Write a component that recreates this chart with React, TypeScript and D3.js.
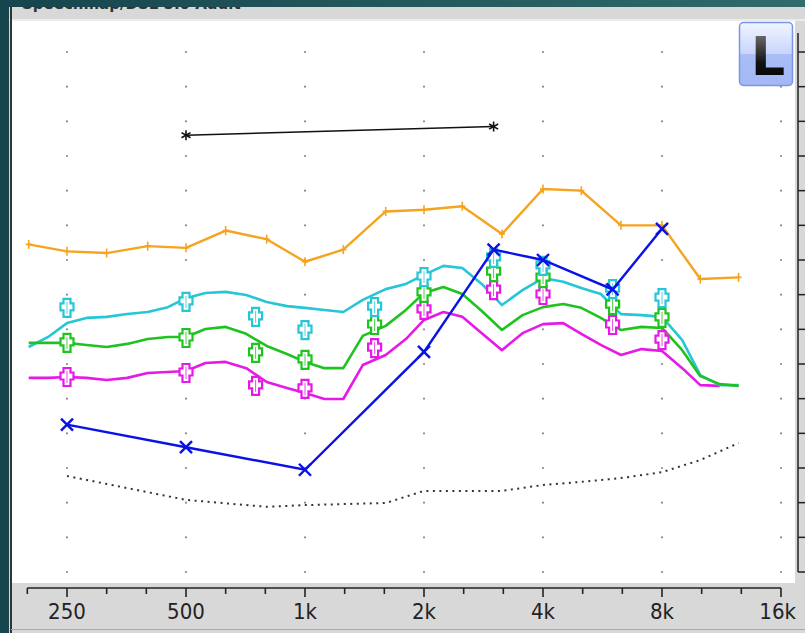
import React from "react";
import * as d3 from "d3";

const W = 805;
const H = 633;

// Frequency axis labels (octaves)
const octaveTicks = [250, 500, 1000, 2000, 4000, 8000, 16000];
const octaveLabels = ["250", "500", "1k", "2k", "4k", "8k", "16k"];

// Level rows (dB SPL), one dotted grid row per 10 dB
const levelRows = [-10, 0, 10, 20, 30, 40, 50, 60, 70, 80, 90, 100, 110, 120, 130, 140];

// Maximum power output, third-octave bands
const mpoFreqs = [200, 250, 315, 400, 500, 630, 800, 1000, 1250, 1600, 2000, 2500, 3150, 4000, 5000, 6300, 8000, 10000, 12500];
const mpoValues = [84.5, 82.5, 82, 84, 83.5, 88.5, 86, 79.5, 83, 94, 94.5, 95.5, 87.5, 100.5, 100, 90, 90, 74.5, 75];

// Uncomfortable loudness levels
const uclFreqs = [500, 3000];
const uclValues = [116, 118.5];

// Hearing thresholds (left ear)
const thresholdFreqs = [250, 500, 1000, 2000, 3000, 4000, 6000, 8000];
const thresholdValues = [32.5, 26, 19.5, 53.5, 83, 80, 71.5, 89];

// Normal hearing threshold
const normFreqs = [250, 500, 800, 1000, 1600, 2000, 3150, 4000, 5000, 6300, 8000, 10000, 12500];
const normValues = [17.7, 10.8, 8.8, 9.3, 9.9, 13.4, 13.4, 15.1, 16, 17.1, 18.8, 22.3, 27.2];

// Aided speech, sixth-octave resolution
const speechFreqs = [200, 224, 250, 280, 315, 355, 400, 450, 500, 560, 630, 710, 800, 900, 1000, 1120, 1250, 1400, 1600, 1800, 2000, 2240, 2500, 2800, 3150, 3550, 4000, 4500, 5000, 5600, 6300, 7100, 8000, 9000, 10000, 11200, 12500];
const speechLoud = [54.9, 57.8, 61.8, 63.3, 63.6, 64.4, 65, 66.4, 69, 70.5, 70.8, 69.9, 67.9, 66.7, 66.2, 65.6, 65, 68.5, 71.6, 73.1, 75.7, 78.3, 77.7, 73.1, 67, 71.3, 74.8, 73.7, 71.9, 70.2, 64.4, 64.1, 63.6, 56.9, 46.8, 43.9, 43.9];
const speechAverage = [56.1, 56.1, 56.1, 55.5, 54.9, 55.8, 57.2, 57.8, 57.8, 60.1, 60.7, 58.7, 55.2, 52.9, 50.6, 48.8, 48.8, 58.1, 61, 65.6, 70.5, 72.2, 70.2, 65.3, 59.8, 64.1, 66.4, 67.3, 66.2, 63.3, 59.8, 60.7, 60.4, 54, 46.5, 44.2, 43.7];
const speechSoft = [46, 46, 46.25, 46, 45.4, 46, 47.4, 47.7, 48, 50.3, 50.6, 48.8, 44.8, 43.1, 41.6, 39.9, 39.9, 49.7, 52.6, 57.2, 62.7, 65, 63.6, 58.9, 54, 58.9, 61.5, 61.8, 58.7, 55.5, 52.6, 54.3, 53.75, 48.8, 43.9, 43.7];

// Prescription targets
const targetFreqs = [250, 500, 750, 1000, 1500, 2000, 3000, 4000, 6000, 8000];
const targetLoud = [66.2, 67.9, 63.6, 59.8, 66.4, 75.1, 80.6, 78.3, 71.6, 69];
const targetAverage = [56.1, 57.5, 53.2, 51.2, 61.25, 70.5, 76.5, 74.8, 67, 63.3];
const targetSoft = [46.25, 47.4, 43.7, 42.8, 54.6, 65.6, 71.3, 69.9, 61.25, 56.9];

const ORANGE = "#f6a31e";
const BLUE = "#0b12e4";
const CYAN = "#26c6d6";
const GREEN = "#1fc31f";
const MAGENTA = "#e61ae6";

const x = d3.scaleLog().base(2).domain([250, 16000]).range([67, 781]);
const y = d3.scaleLinear().domain([-10, 140]).range([572, 52]);

const PLOT = { left: 12, top: 21, right: 795, bottom: 583 };

// third-octave tick steps from 200 Hz to 16 kHz (step 0 = 250 Hz)
const axisSteps = d3.range(-1, 19);

type Pt = [number, number];
const zip = (fs: number[], vs: number[]): Pt[] => vs.map((v, i) => [fs[i], v]);

const linePath = d3
  .line<Pt>()
  .x((d) => x(d[0]))
  .y((d) => y(d[1]));

const crossPath = (() => {
  const a = 3.5, h = 6.5, v = 9, o = -1;
  return `M${-a},${-v}L${a},${-v}L${a},${-a + o}L${h},${-a + o}L${h},${a + o}L${a},${a + o}L${a},${v}L${-a},${v}L${-a},${a + o}L${-h},${a + o}L${-h},${-a + o}L${-a},${-a + o}Z`;
})();

function Targets({ values, color }: { values: number[]; color: string }) {
  return (
    <g>
      {zip(targetFreqs, values).map((d, i) => (
        <g key={i} transform={`translate(${x(d[0])},${y(d[1])})`}>
          <path d={crossPath} fill="#fff" stroke={color} strokeWidth={2.2} />
          <line x1={0} x2={0} y1={-6} y2={6} stroke={color} strokeWidth={1} opacity={0.8} />
        </g>
      ))}
    </g>
  );
}

export default function App() {
  const font = "'DejaVu Sans Condensed', 'DejaVu Sans', sans-serif";
  const mpo = zip(mpoFreqs, mpoValues);
  const ucl = zip(uclFreqs, uclValues);
  const thr = zip(thresholdFreqs, thresholdValues);

  return (
    <svg
      width={W}
      height={H}
      viewBox={`0 0 ${W} ${H}`}
      style={{ position: "absolute", left: 0, top: 0, display: "block" }}
    >
      <defs>
        <linearGradient id="teal" x1="0" x2="1" y1="0" y2="0">
          <stop offset="0" stopColor="#17454e" />
          <stop offset="1" stopColor="#2f6c6b" />
        </linearGradient>
        <linearGradient id="btn" x1="0" x2="0" y1="0" y2="1">
          <stop offset="0" stopColor="#f2f5ff" />
          <stop offset="0.5" stopColor="#c8d5fb" />
          <stop offset="0.5" stopColor="#a9bef6" />
          <stop offset="1" stopColor="#a3b8f5" />
        </linearGradient>
        <linearGradient id="glyph" x1="0" x2="0" y1="0" y2="1">
          <stop offset="0" stopColor="#8a8a8a" />
          <stop offset="0.6" stopColor="#111" />
          <stop offset="1" stopColor="#000" />
        </linearGradient>
        <clipPath id="titleClip">
          <rect x={12} y={7} width={W} height={13} />
        </clipPath>
        <clipPath id="plotClip">
          <rect x={PLOT.left} y={PLOT.top} width={PLOT.right - PLOT.left} height={PLOT.bottom - PLOT.top} />
        </clipPath>
      </defs>

      {/* window background */}
      <rect x={0} y={0} width={W} height={H} fill="url(#teal)" />
      <rect x={9} y={7} width={W - 9} height={H - 7} fill="#d8d8d8" />
      <rect x={9} y={19} width={W - 9} height={2} fill="#ececec" />
      <g clipPath="url(#titleClip)">
        <text x={22} y={9} fontFamily="'DejaVu Sans', sans-serif" fontWeight="bold" fontSize={15} fill="#333">
          Speechmap/DSL 5.0 Adult
        </text>
      </g>

      {/* plot area */}
      <rect x={PLOT.left} y={PLOT.top} width={PLOT.right - PLOT.left} height={PLOT.bottom - PLOT.top} fill="#fff" />
      <line x1={11} x2={11} y1={7} y2={H} stroke="#333" strokeWidth={2} />
      <line x1={11} x2={W} y1={629.5} y2={629.5} stroke="#a8a8a8" strokeWidth={1} />

      {/* dotted grid */}
      <g fill="#8a8a8a">
        {octaveTicks.map((f) =>
          levelRows.map((r) => <circle key={`${f}-${r}`} cx={x(f)} cy={y(r)} r={1.1} />)
        )}
      </g>

      <g clipPath="url(#plotClip)">
        {/* normal hearing threshold */}
        <path
          d={linePath(zip(normFreqs, normValues)) || ""}
          fill="none"
          stroke="#333"
          strokeWidth={2}
          strokeDasharray="2 4.5"
        />

        {/* aided speech curves */}
        <path d={linePath(zip(speechFreqs, speechSoft)) || ""} fill="none" stroke={MAGENTA} strokeWidth={2.6} strokeLinejoin="round" />
        <path d={linePath(zip(speechFreqs, speechLoud)) || ""} fill="none" stroke={CYAN} strokeWidth={2.6} strokeLinejoin="round" />
        <path d={linePath(zip(speechFreqs, speechAverage)) || ""} fill="none" stroke={GREEN} strokeWidth={2.6} strokeLinejoin="round" />

        <Targets values={targetSoft} color={MAGENTA} />
        <Targets values={targetAverage} color={GREEN} />
        <Targets values={targetLoud} color={CYAN} />

        {/* maximum power output */}
        <path d={linePath(mpo) || ""} fill="none" stroke={ORANGE} strokeWidth={2.4} strokeLinejoin="round" />
        <g stroke={ORANGE} strokeWidth={1.6}>
          {mpo.map((d, i) => (
            <g key={i} transform={`translate(${x(d[0])},${y(d[1])})`}>
              <line x1={0} x2={0} y1={-4.5} y2={4.5} />
              <line x1={-3} x2={3} y1={0} y2={0} />
            </g>
          ))}
        </g>

        {/* thresholds */}
        <path d={linePath(thr) || ""} fill="none" stroke={BLUE} strokeWidth={2.4} />
        <g stroke={BLUE} strokeWidth={2.4}>
          {thr.map((d, i) => (
            <g key={i} transform={`translate(${x(d[0])},${y(d[1])})`}>
              <line x1={-6} x2={6} y1={-6} y2={6} />
              <line x1={-6} x2={6} y1={6} y2={-6} />
            </g>
          ))}
        </g>

        {/* UCL */}
        <path d={linePath(ucl) || ""} fill="none" stroke="#111" strokeWidth={1.4} />
        <g stroke="#111" strokeWidth={1.6}>
          {ucl.map((d, i) => (
            <g key={i} transform={`translate(${x(d[0])},${y(d[1])})`}>
              <line x1={0} x2={0} y1={-5} y2={5} />
              <line x1={-4.5} x2={4.5} y1={-2.6} y2={2.6} />
              <line x1={-4.5} x2={4.5} y1={2.6} y2={-2.6} />
            </g>
          ))}
        </g>
      </g>

      {/* right level axis */}
      <g stroke="#222" strokeWidth={1.5}>
        <line x1={798} x2={798} y1={33} y2={y(-10)} />
        {levelRows.map((r) => (
          <line key={r} x1={798} x2={W} y1={y(r)} y2={y(r)} />
        ))}
      </g>

      {/* frequency axis */}
      <g stroke="#222" strokeWidth={1.6}>
        <line x1={x(250 * Math.pow(2, -1 / 3))} x2={x(16000)} y1={588} y2={588} />
        {axisSteps.map((k) => {
          const fx = x(250 * Math.pow(2, k / 3));
          const major = ((k % 3) + 3) % 3 === 0;
          return <line key={k} x1={fx} x2={fx} y1={588} y2={major ? 597 : 594} />;
        })}
      </g>
      <g fontFamily={font} fontSize={22} fill="#222">
        {octaveTicks.map((f, i) => (
          <text
            key={f}
            x={i === octaveTicks.length - 1 ? 796 : x(f)}
            y={619}
            textAnchor={i === octaveTicks.length - 1 ? "end" : "middle"}
          >
            {octaveLabels[i]}
          </text>
        ))}
      </g>

      {/* ear selector */}
      <rect x={739.5} y={22.5} width={53} height={63} rx={4} fill="url(#btn)" stroke="#7a95ec" strokeWidth={1.5} />
      <text x={768} y={75} textAnchor="middle" fontFamily="'DejaVu Sans', sans-serif" fontWeight="bold" fontSize={54} fill="url(#glyph)">
        L
      </text>
    </svg>
  );
}
